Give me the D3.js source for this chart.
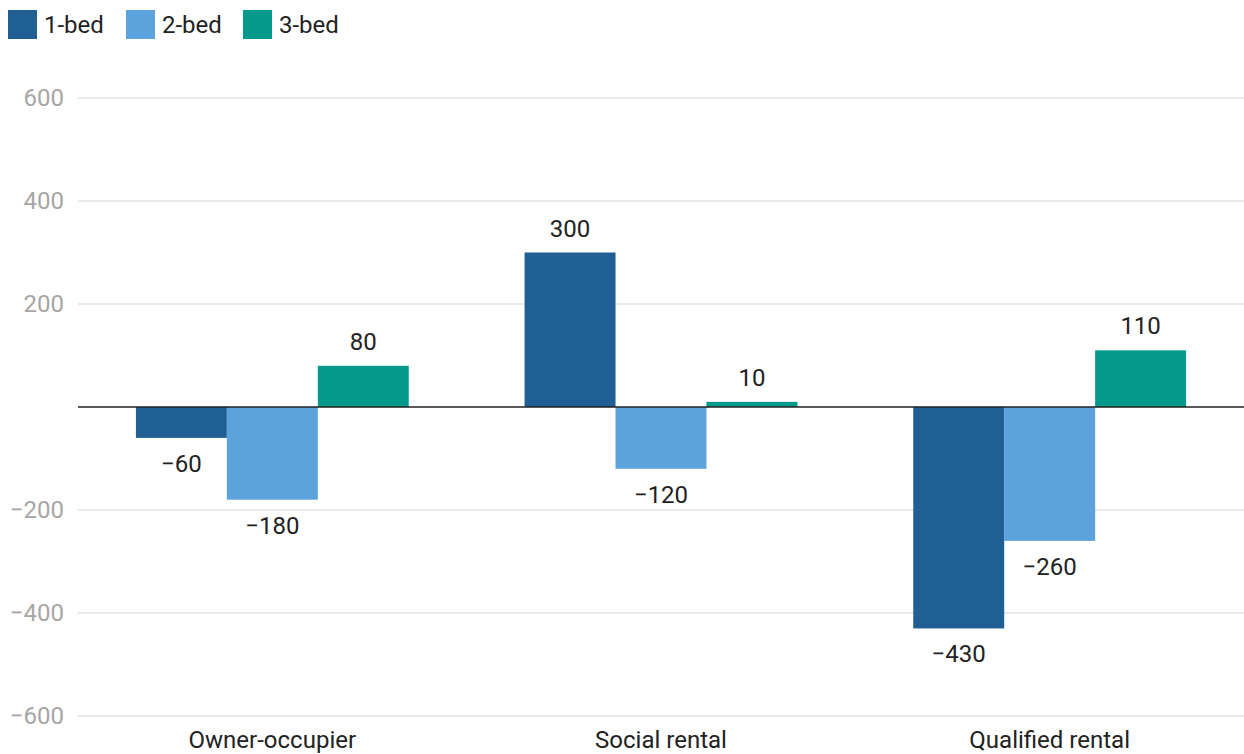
<!DOCTYPE html>
<html>
<head>
<meta charset="utf-8">
<script src="https://cdn.jsdelivr.net/npm/d3@7"></script>
<style>
  body { margin: 0; background: #fff; font-family: Roboto, "Noto Sans", sans-serif; }
  svg { display: block; }
</style>
</head>
<body>
<svg id="chart" width="1244" height="754"></svg>
<script>
// data
var categories = ["Owner-occupier", "Social rental", "Qualified rental"];
var series = ["1-bed", "2-bed", "3-bed"];
var colors = ["#1f5f94", "#5ca3de", "#039a8c"];
var oneBed = [-60, 300, -430];
var twoBed = [-180, -120, -260];
var threeBed = [80, 10, 110];
var yTicks = [-600, -400, -200, 0, 200, 400, 600];

var values = [oneBed, twoBed, threeBed];

var svg = d3.select("#chart");
var plotLeft = 78, plotRight = 1244, plotTop = 98, plotBottom = 716;

var x = d3.scaleBand().domain(categories).range([plotLeft, plotRight])
    .paddingInner(0.298).paddingOuter(0.149);
var xs = d3.scaleBand().domain(series).range([0, x.bandwidth()]);
var y = d3.scaleLinear().domain([-600, 600]).range([plotBottom, plotTop]);

function fmt(v) { return v < 0 ? "\u2212" + Math.abs(v) : "" + v; }

// gridlines
svg.append("g").selectAll("line")
  .data(yTicks.filter(function(d){ return d != 0; }))
  .enter().append("line")
    .attr("x1", plotLeft).attr("x2", plotRight)
    .attr("y1", function(d){ return y(d); })
    .attr("y2", function(d){ return y(d); })
    .attr("stroke", "#e2e2e2").attr("stroke-width", 1.5);

// y tick labels
svg.append("g").selectAll("text")
  .data(yTicks.filter(function(d){ return d != 0; }))
  .enter().append("text")
    .attr("x", 64)
    .attr("y", function(d){ return y(d); })
    .attr("dy", "0.35em")
    .attr("text-anchor", "end")
    .attr("font-size", "24px")
    .attr("fill", "#a6a6a6")
    .text(fmt);

// bars
series.forEach(function(s, si) {
  var g = svg.append("g");
  g.selectAll("rect")
    .data(categories)
    .enter().append("rect")
      .attr("x", function(c){ return x(c) + xs(s); })
      .attr("width", xs.bandwidth())
      .attr("y", function(c, i){ return y(Math.max(0, values[si][i])); })
      .attr("height", function(c, i){ return Math.abs(y(values[si][i]) - y(0)); })
      .attr("fill", colors[si]);

  g.selectAll("text")
    .data(categories)
    .enter().append("text")
      .attr("x", function(c){ return x(c) + xs(s) + xs.bandwidth() / 2; })
      .attr("y", function(c, i){
        var v = values[si][i];
        return v >= 0 ? y(v) - 16 : y(v) + 34;
      })
      .attr("text-anchor", "middle")
      .attr("font-size", "24px")
      .attr("fill", "#222")
      .text(function(c, i){ return fmt(values[si][i]); });
});

// zero line
svg.append("line")
  .attr("x1", plotLeft).attr("x2", plotRight)
  .attr("y1", y(0)).attr("y2", y(0))
  .attr("stroke", "#222").attr("stroke-width", 1.5);

// category labels
svg.append("g").selectAll("text")
  .data(categories)
  .enter().append("text")
    .attr("x", function(c){ return x(c) + x.bandwidth() / 2; })
    .attr("y", 748)
    .attr("text-anchor", "middle")
    .attr("font-size", "24px")
    .attr("fill", "#222")
    .text(function(c){ return c; });

// legend
var legendX = [8, 126, 243];
var legend = svg.append("g");
series.forEach(function(s, i) {
  legend.append("rect")
    .attr("x", legendX[i]).attr("y", 10)
    .attr("width", 29).attr("height", 29)
    .attr("fill", colors[i]);
  legend.append("text")
    .attr("x", legendX[i] + 36).attr("y", 25)
    .attr("dy", "0.35em")
    .attr("font-size", "24px")
    .attr("fill", "#222")
    .text(s);
});
</script>
</body>
</html>
